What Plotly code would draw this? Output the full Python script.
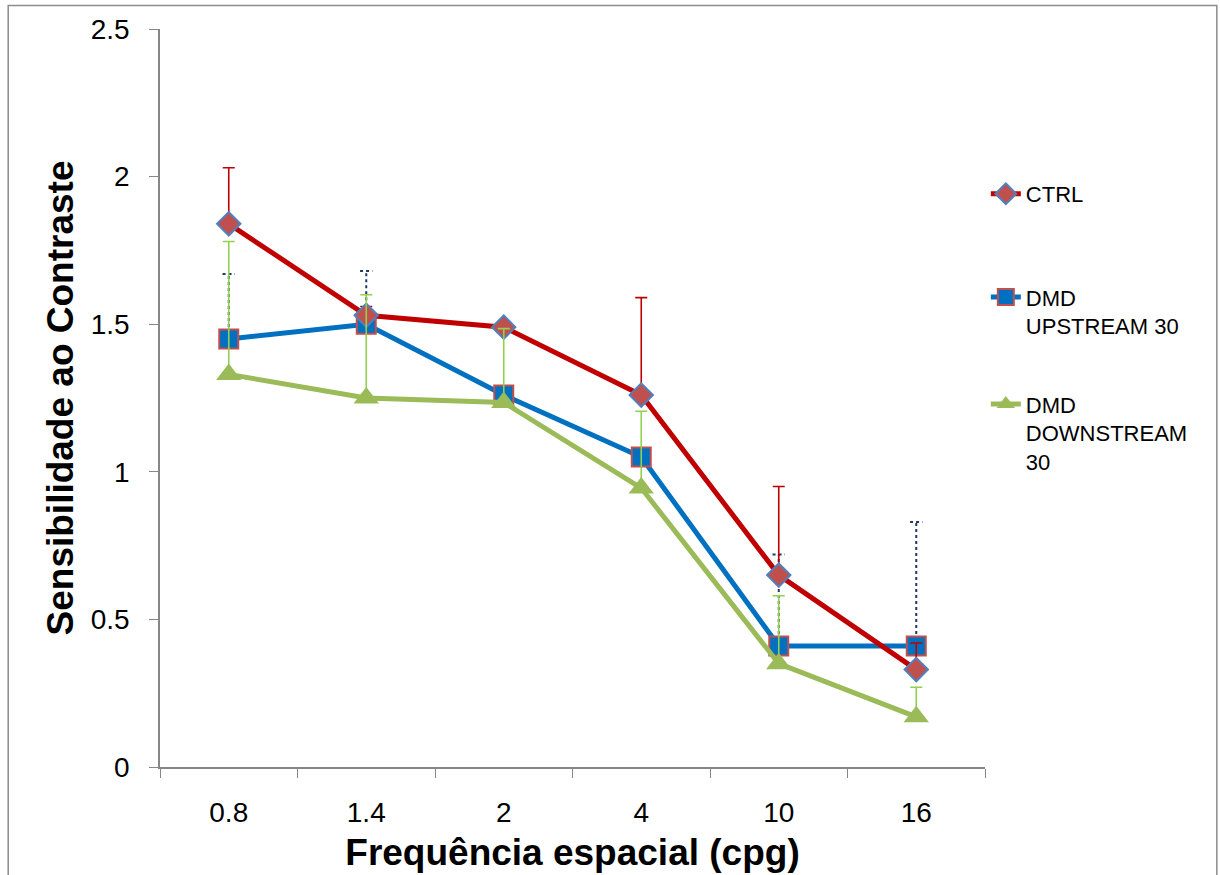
import plotly.graph_objects as go

# Spatial frequencies (cycles per degree) and contrast sensitivity per group
freqs = ["0.8", "1.4", "2", "4", "10", "16"]

ctrl = [1.84, 1.53, 1.49, 1.26, 0.65, 0.33]
ctrl_err = [0.19, 0.03, 0.02, 0.33, 0.30, 0.09]

upstream = [1.45, 1.50, 1.26, 1.05, 0.41, 0.41]
upstream_err = [0.22, 0.18, 0.02, 0.02, 0.31, 0.42]

downstream = [1.33, 1.25, 1.235, 0.945, 0.35, 0.17]
downstream_err = [0.45, 0.35, 0.25, 0.26, 0.23, 0.10]

pos = list(range(len(freqs)))

RED = "#C00000"
RED_FILL = "#C0504D"
BLUE = "#0070C0"
BLUE_EDGE = "#4F81BD"
GREEN = "#9BBB59"
GREEN_ERR = "#92D050"
NAVY = "#1F3864"
FONT = "Liberation Sans, Arial, sans-serif"

fig = go.Figure()

# dotted upper error bars for the upstream group
cap = 0.045
ex, ey = [], []
for p, v, e in zip(pos, upstream, upstream_err):
    ex += [p, p, None, p - cap, p + cap, None]
    ey += [v, v + e, None, v + e, v + e, None]
fig.add_trace(go.Scatter(
    x=ex, y=ey, mode="lines", showlegend=False, hoverinfo="skip",
    line=dict(color=NAVY, width=2, dash="dot"),
))

fig.add_trace(go.Scatter(
    x=pos, y=upstream, mode="lines+markers", name="DMD<br>UPSTREAM 30",
    legend="legend2",
    line=dict(color=BLUE, width=5),
    marker=dict(symbol="square", size=19, color=BLUE,
                line=dict(color=RED_FILL, width=2)),
))

fig.add_trace(go.Scatter(
    x=pos, y=ctrl, mode="lines+markers", name="CTRL",
    legend="legend",
    line=dict(color=RED, width=5),
    marker=dict(symbol="diamond", size=18, color=RED_FILL,
                line=dict(color=BLUE_EDGE, width=2)),
    error_y=dict(type="data", array=ctrl_err, arrayminus=[0] * len(ctrl),
                 symmetric=False, color=RED, thickness=1.6, width=6),
))

fig.add_trace(go.Scatter(
    x=pos, y=downstream, mode="lines+markers", name="DMD<br>DOWNSTREAM<br>30",
    legend="legend3",
    line=dict(color=GREEN, width=5),
    marker=dict(symbol="triangle-up", size=22, color=GREEN,
                line=dict(color=GREEN, width=0)),
    error_y=dict(type="data", array=downstream_err,
                 arrayminus=[0] * len(downstream),
                 symmetric=False, color=GREEN_ERR, thickness=1.6, width=6),
))

legend_style = dict(
    xanchor="left", yanchor="top", valign="top",
    bgcolor="rgba(0,0,0,0)", borderwidth=0,
    font=dict(family=FONT, size=22, color="#000000"),
    itemclick=False, itemdoubleclick=False,
)

fig.update_layout(
    width=1220, height=875,
    margin=dict(l=160, r=235, t=29, b=108),
    paper_bgcolor="white", plot_bgcolor="white",
    showlegend=True,
    legend=dict(x=1.001, y=0.805, **legend_style),
    legend2=dict(x=1.001, y=0.665, **legend_style),
    legend3=dict(x=1.001, y=0.520, **legend_style),
    xaxis=dict(
        range=[-0.5, 5.5], automargin=False,
        tickmode="array", tickvals=pos, ticktext=freqs, ticks="",
        minor=dict(tickmode="linear", tick0=-0.5, dtick=1, ticks="outside",
                   ticklen=9, tickcolor="#868686", tickwidth=1),
        showline=True, linecolor="#868686", linewidth=1.5,
        showgrid=False, zeroline=False,
        tickfont=dict(family=FONT, size=28, color="#000000"),
        ticklabelstandoff=20,
        title=dict(text="<b>Frequência espacial (cpg)</b>",
                   font=dict(family=FONT, size=37, color="#000000"),
                   standoff=12),
    ),
    yaxis=dict(
        range=[0, 2.5], automargin=False,
        tickmode="array", tickvals=[0, 0.5, 1, 1.5, 2, 2.5],
        ticktext=["0", "0.5", "1", "1.5", "2", "2.5"],
        ticks="outside", ticklen=9, tickcolor="#868686", tickwidth=1,
        showline=True, linecolor="#868686", linewidth=1.5,
        showgrid=False, zeroline=False,
        tickfont=dict(family=FONT, size=28, color="#000000"),
        ticklabelstandoff=14,
        title=dict(text="<b>Sensibilidade ao Contraste</b>",
                   font=dict(family=FONT, size=37, color="#000000"),
                   standoff=6),
    ),
    shapes=[dict(type="rect", xref="paper", yref="paper",
                 x0=-0.184, x1=1.281, y0=-0.16, y1=1.032,
                 line=dict(color="#8C8C8C", width=1.5), layer="below")],
)

fig.write_html("out.html")
